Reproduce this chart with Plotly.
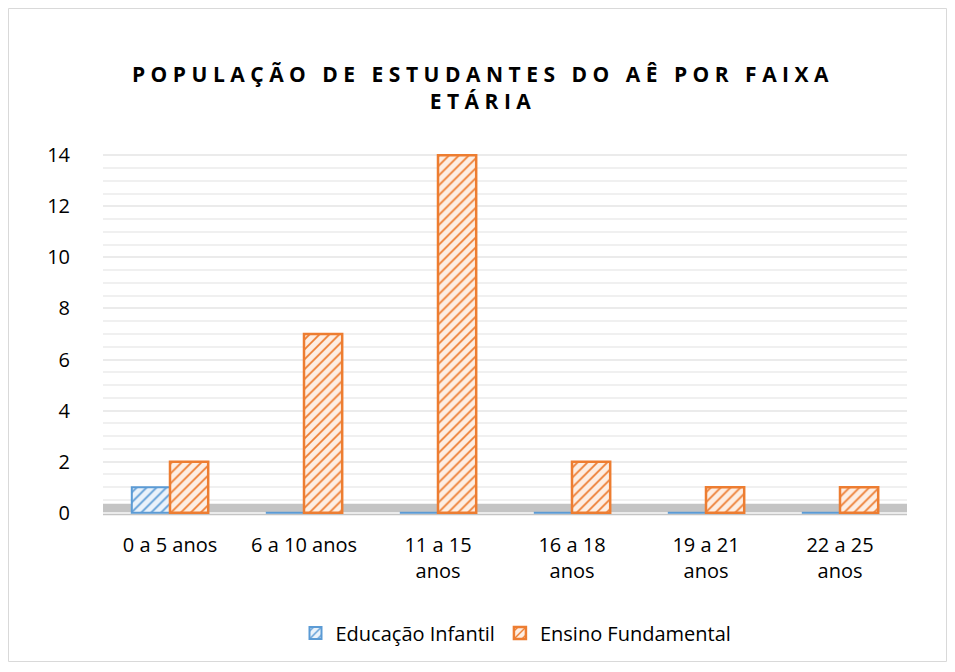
import plotly.graph_objects as go

categories = ["0 a 5 anos", "6 a 10 anos", "11 a 15 anos", "16 a 18 anos", "19 a 21 anos", "22 a 25 anos"]
tick_labels = ["0 a 5 anos", "6 a 10 anos", "11 a 15<br>anos", "16 a 18<br>anos", "19 a 21<br>anos", "22 a 25<br>anos"]
educacao_infantil = [1, 0, 0, 0, 0, 0]
ensino_fundamental = [2, 7, 14, 2, 1, 1]
y_ticks = [0, 2, 4, 6, 8, 10, 12, 14]

BLUE = "#5B9BD5"
ORANGE = "#ED7D31"
FONT = "Open Sans"

fig = go.Figure()
fig.add_trace(go.Bar(
    name="Educação Infantil", x=categories, y=educacao_infantil,
    marker=dict(color="#DEEBF7", line=dict(color=BLUE, width=2),
                pattern=dict(shape="/", fgcolor=BLUE, bgcolor="#EAF2FA",
                             size=7, solidity=0.25, fillmode="replace")),
))
fig.add_trace(go.Bar(
    name="Ensino Fundamental", x=categories, y=ensino_fundamental,
    marker=dict(color="#FBE3D2", line=dict(color=ORANGE, width=2.5),
                pattern=dict(shape="/", fgcolor=ORANGE, bgcolor="#FDEEE3",
                             size=7, solidity=0.25, fillmode="replace")),
))

# page offset of the figure (body margin)
OFF = 8
W, H = 955, 672
L, R, T, B = 95, 56, 137, 157
pw, ph = W - L - R, H - T - B
def px(x): return (x - OFF - L) / pw
def py(y): return (H - B - (y - OFF)) / ph

shapes = [
    dict(type="rect", xref="paper", yref="paper", x0=px(8.5), x1=px(946.5), y0=py(661.5), y1=py(8.5),
         line=dict(color="#D9D9D9", width=1), fillcolor="rgba(0,0,0,0)", layer="below"),
    dict(type="rect", xref="paper", yref="y", x0=0, x1=1, y0=-0.1, y1=0.35,
         line=dict(width=0), fillcolor="#C4C4C4", layer="below"),
]

SP = "letter-spacing:5.5px"
fig.update_layout(
    width=W, height=H,
    margin=dict(l=L, r=R, t=T, b=B),
    paper_bgcolor="white", plot_bgcolor="white",
    font=dict(family=FONT, size=20, color="#000000"),
    title=dict(text=f'<b><span style="{SP}">POPULAÇÃO DE ESTUDANTES DO AÊ POR FAIXA</span><br><span style="{SP}">ETÁRIA</span></b>',
               x=px(483), xanchor="center", xref="paper", y=1 - (82 - OFF) / H, yanchor="middle",
               font=dict(family=FONT, size=21, color="#000000")),
    barmode="group", bargap=0.43, bargroupgap=0,
    shapes=shapes,
    legend=dict(orientation="h", x=px(516), xanchor="center", xref="paper",
                y=py(633), yanchor="middle", font=dict(size=20),
                itemwidth=30),
    xaxis=dict(tickmode="array", tickvals=categories, ticktext=tick_labels,
               showline=False, ticks="", tickfont=dict(size=20), ticklabelstandoff=8),
    yaxis=dict(range=[-0.4, 14.4], tickvals=y_ticks, showgrid=True,
               gridcolor="#EBEBEB", gridwidth=1.5, zeroline=False,
               ticklabelstandoff=32, tickfont=dict(size=20),
               minor=dict(dtick=0.5, tick0=0, showgrid=True, gridcolor="#F0F0F0", gridwidth=1.5)),
)

fig.write_html("out.html")
